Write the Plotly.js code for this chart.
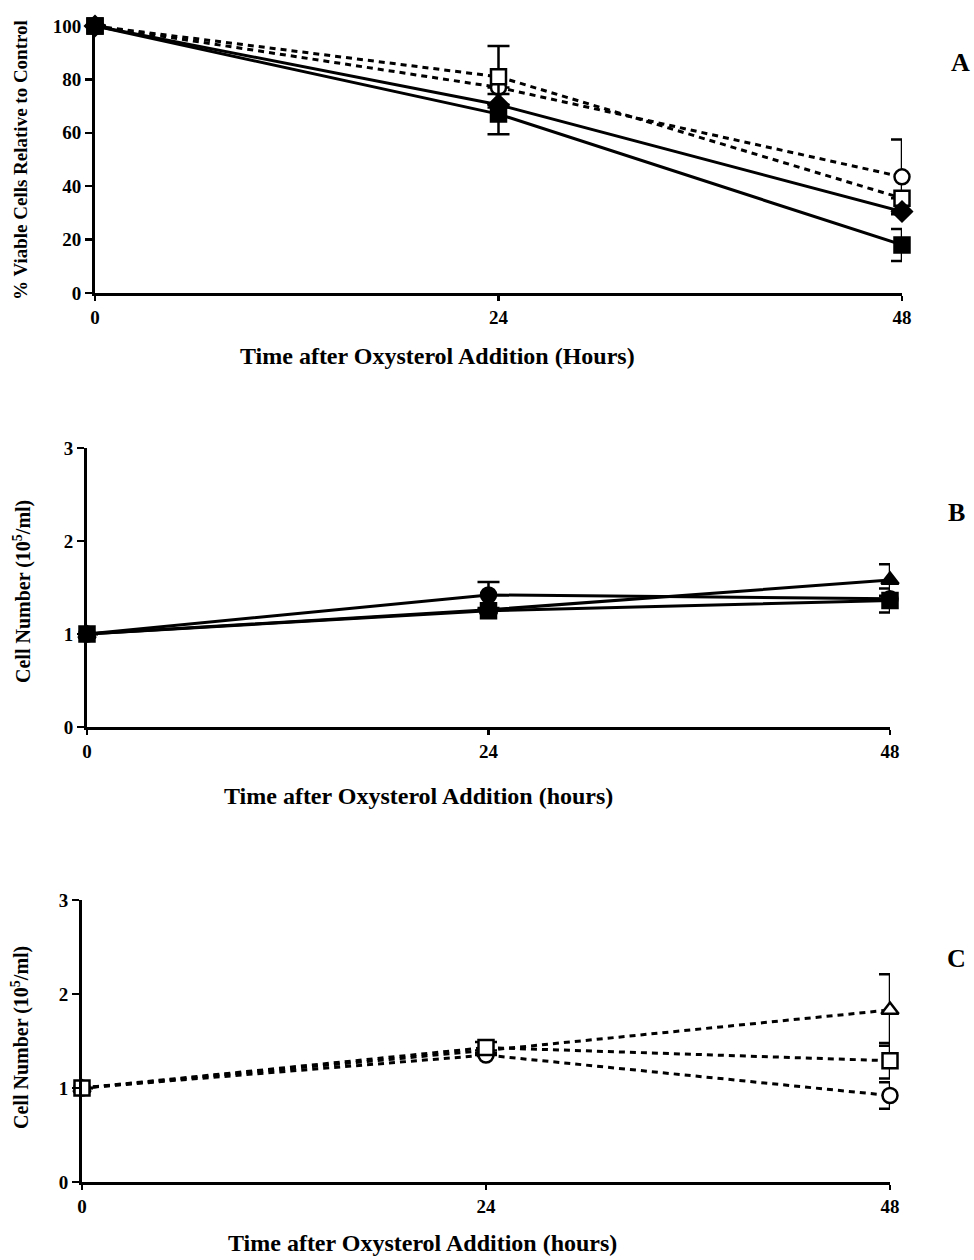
<!DOCTYPE html>
<html>
<head>
<meta charset="utf-8">
<script src="https://cdn.plot.ly/plotly-3.0.1.min.js"></script>
<style>html,body{margin:0;padding:0;background:#fff;}#chart{width:974px;height:1260px;}</style>
</head>
<body>
<div id="chart"></div>
<script>
// ---- data ----
const hours = [0, 24, 48];
const xTickVals = [0, 24, 48];
const xTickText = ['0', '24', '48'];

// Panel A: % viable cells relative to control
const aFilledSquare = [100, 67, 18];
const aFilledSquareErr = [0, 7.5, 6];
const aFilledDiamond = [100, 70.5, 30.5];
const aFilledDiamondErr = [0, 0, 0];
const aOpenSquare = [100, 81, 35.5];
const aOpenSquareErr = [0, 11.5, 0];
const aOpenCircle = [100, 77, 43.5];
const aOpenCircleErr = [0, 0, 14];
const aYTicks = [0, 20, 40, 60, 80, 100];

// Panel B: cell number, solid lines
const bFilledCircle = [1, 1.42, 1.38];
const bFilledCircleErr = [0, 0.14, 0];
const bFilledTriangle = [1, 1.26, 1.58];
const bFilledTriangleErr = [0, 0, 0.17];
const bFilledSquare = [1, 1.25, 1.36];
const bFilledSquareErr = [0, 0, 0.13];

// Panel C: cell number, dashed lines
const cOpenTriangle = [1, 1.40, 1.83];
const cOpenTriangleErr = [0, 0, 0.38];
const cOpenSquare = [1, 1.43, 1.29];
const cOpenSquareErr = [0, 0.06, 0.19];
const cOpenCircle = [1, 1.35, 0.92];
const cOpenCircleErr = [0, 0, 0.14];
const cellYTicks = [0, 1, 2, 3];

const panelLabels = ['A', 'B', 'C'];
const xTitles = ['Time after Oxysterol Addition (Hours)', 'Time after Oxysterol Addition (hours)', 'Time after Oxysterol Addition (hours)'];
const yTitles = ['% Viable Cells Relative to Control', 'Cell Number (10<sup>5</sup>/ml)', 'Cell Number (10<sup>5</sup>/ml)'];

// ---- helpers ----
const FONT = 'Liberation Serif, Times New Roman, serif';
function tr(y, err, xa, ya, symbol, filled, dash) {
  return {
    x: hours, y: y, xaxis: xa, yaxis: ya, type: 'scatter', mode: 'lines+markers',
    line: {color: '#000', width: 3, dash: dash},
    marker: {symbol: symbol, size: 15,
             color: filled ? '#000' : '#fff', line: {color: '#000', width: 2.5}},
    error_y: {type: 'data', array: err, visible: true, color: '#000', thickness: 2.5, width: 11},
    showlegend: false, cliponaxis: false, hoverinfo: 'skip'
  };
}
const dashPat = '6px,5px';
const data = [
  tr(aOpenCircle, aOpenCircleErr, 'x', 'y', 'circle', false, dashPat),
  tr(aOpenSquare, aOpenSquareErr, 'x', 'y', 'square', false, dashPat),
  tr(aFilledDiamond, aFilledDiamondErr, 'x', 'y', 'diamond', true, 'solid'),
  tr(aFilledSquare, aFilledSquareErr, 'x', 'y', 'square', true, 'solid'),
  tr(bFilledCircle, bFilledCircleErr, 'x2', 'y2', 'circle', true, 'solid'),
  tr(bFilledTriangle, bFilledTriangleErr, 'x2', 'y2', 'triangle-up', true, 'solid'),
  tr(bFilledSquare, bFilledSquareErr, 'x2', 'y2', 'square', true, 'solid'),
  tr(cOpenCircle, cOpenCircleErr, 'x3', 'y3', 'circle', false, dashPat),
  tr(cOpenTriangle, cOpenTriangleErr, 'x3', 'y3', 'triangle-up', false, dashPat),
  tr(cOpenSquare, cOpenSquareErr, 'x3', 'y3', 'square', false, dashPat)
];

const W = 974, H = 1260;
function xAx(x0, x1, anchor) {
  return {domain: [x0 / W, x1 / W], range: [0, 48], anchor: anchor,
    tickmode: 'array', tickvals: xTickVals, ticktext: xTickText,
    ticks: 'outside', ticklen: 5, tickwidth: 2.5, tickcolor: '#000',
    showline: true, linecolor: '#000', linewidth: 3, showgrid: false, zeroline: false,
    tickfont: {family: FONT, size: 19, color: '#000', weight: 'bold'}, fixedrange: true};
}
function yAx(yBottomPx, yTopPx, range, ticks, anchor) {
  return {domain: [(H - yBottomPx) / H, (H - yTopPx) / H], range: range, anchor: anchor,
    tickmode: 'array', tickvals: ticks,
    ticks: 'outside', ticklen: 7, tickwidth: 2.5, tickcolor: '#000',
    showline: true, linecolor: '#000', linewidth: 3, showgrid: false, zeroline: false,
    tickfont: {family: FONT, size: 19, color: '#000', weight: 'bold'}, fixedrange: true};
}

function ann(text, xPx, yPx, size, angle) {
  return {text: text, xref: 'paper', yref: 'paper', x: xPx / W, y: (H - yPx) / H,
    xanchor: 'center', yanchor: 'middle', showarrow: false, textangle: angle || 0,
    font: {family: FONT, size: size, color: '#000', weight: 'bold'}};
}

const layout = {
  width: W, height: H, margin: {l: 0, r: 0, t: 0, b: 0},
  paper_bgcolor: '#fff', plot_bgcolor: '#fff', showlegend: false,
  xaxis: xAx(95, 902, 'y'),
  yaxis: yAx(293, 18, [0, 103], aYTicks, 'x'),
  xaxis2: xAx(87, 890, 'y2'),
  yaxis2: yAx(727, 448, [0, 3], cellYTicks, 'x2'),
  xaxis3: xAx(82, 890, 'y3'),
  yaxis3: yAx(1182, 900, [0, 3], cellYTicks, 'x3'),
  annotations: [
    ann(xTitles[0], 437, 356, 24),
    ann(xTitles[1], 418, 796, 24),
    ann(xTitles[2], 422, 1243, 24),
    ann(yTitles[0], 20, 160, 19, -90),
    ann(yTitles[1], 22, 592, 20, -90),
    ann(yTitles[2], 20, 1038, 20, -90),
    ann(panelLabels[0], 960, 62, 26),
    ann(panelLabels[1], 956, 512, 26),
    ann(panelLabels[2], 956, 958, 26)
  ]
};

Plotly.newPlot('chart', data, layout, {displayModeBar: false, staticPlot: true});
</script>
</body>
</html>
